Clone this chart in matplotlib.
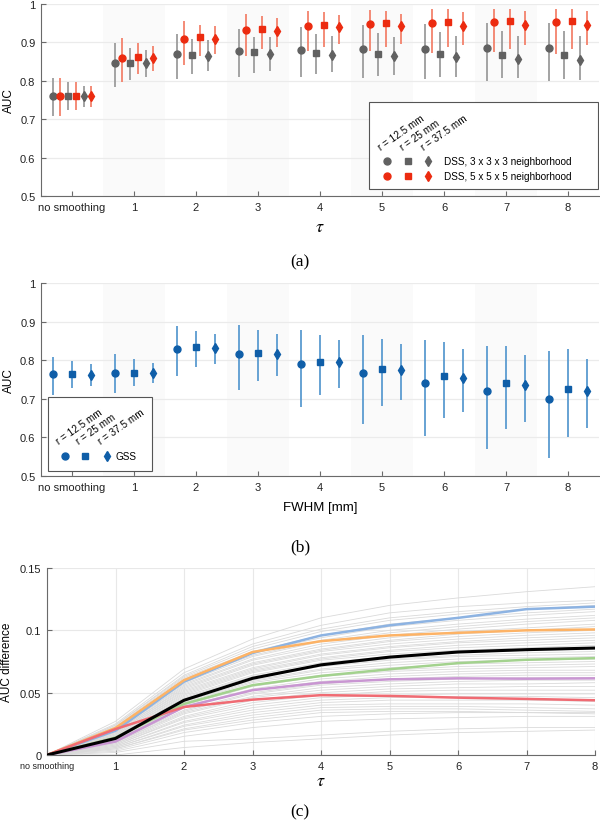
#!/usr/bin/env python

import numpy as np
import matplotlib
matplotlib.use('Agg')
import matplotlib.pyplot as plt
from matplotlib.patches import Rectangle

plt.rc("font", family=["Liberation Sans", "DejaVu Sans"], size=8)
plt.rc("mathtext", fontset="stix")

groups = ["no smoothing", "1", "2", "3", "4", "5", "6", "7", "8"]
bands = [1, 3, 5, 7]

# panel (a): DSS, 3x3x3 neighborhood (gray)
dss3_r125 = [0.760, 0.846, 0.870, 0.877, 0.881, 0.882, 0.884, 0.885, 0.885]
dss3_r125_lo = [0.708, 0.785, 0.805, 0.811, 0.809, 0.807, 0.805, 0.800, 0.800]
dss3_r125_hi = [0.807, 0.898, 0.922, 0.935, 0.939, 0.945, 0.948, 0.950, 0.951]
dss3_r25 = [0.760, 0.847, 0.868, 0.874, 0.873, 0.871, 0.870, 0.868, 0.867]
dss3_r25_lo = [0.725, 0.802, 0.818, 0.820, 0.818, 0.813, 0.810, 0.807, 0.805]
dss3_r25_hi = [0.796, 0.885, 0.909, 0.913, 0.922, 0.925, 0.928, 0.930, 0.929]
dss3_r375 = [0.760, 0.847, 0.865, 0.869, 0.867, 0.864, 0.861, 0.857, 0.854]
dss3_r375_lo = [0.733, 0.809, 0.826, 0.826, 0.822, 0.815, 0.810, 0.806, 0.802]
dss3_r375_hi = [0.787, 0.880, 0.907, 0.913, 0.916, 0.915, 0.916, 0.917, 0.917]

# panel (a): DSS, 5x5x5 neighborhood (red)
dss5_r125 = [0.760, 0.859, 0.910, 0.933, 0.944, 0.948, 0.951, 0.952, 0.952]
dss5_r125_lo = [0.708, 0.796, 0.842, 0.864, 0.877, 0.877, 0.873, 0.875, 0.871]
dss5_r125_hi = [0.807, 0.911, 0.957, 0.974, 0.981, 0.985, 0.986, 0.986, 0.986]
dss5_r25 = [0.760, 0.862, 0.913, 0.936, 0.946, 0.951, 0.954, 0.955, 0.955]
dss5_r25_lo = [0.725, 0.818, 0.864, 0.883, 0.889, 0.887, 0.887, 0.884, 0.882]
dss5_r25_hi = [0.796, 0.898, 0.946, 0.970, 0.978, 0.983, 0.986, 0.986, 0.988]
dss5_r375 = [0.760, 0.860, 0.909, 0.929, 0.939, 0.943, 0.944, 0.945, 0.945]
dss5_r375_lo = [0.733, 0.825, 0.870, 0.889, 0.896, 0.896, 0.894, 0.894, 0.893]
dss5_r375_hi = [0.787, 0.891, 0.942, 0.963, 0.971, 0.975, 0.978, 0.981, 0.981]

# panel (b): GSS
gss_r125 = [0.763, 0.767, 0.830, 0.816, 0.790, 0.766, 0.742, 0.721, 0.699]
gss_r125_lo = [0.709, 0.716, 0.759, 0.722, 0.678, 0.636, 0.603, 0.569, 0.546]
gss_r125_hi = [0.808, 0.815, 0.888, 0.891, 0.879, 0.864, 0.853, 0.838, 0.823]
gss_r25 = [0.763, 0.766, 0.834, 0.819, 0.796, 0.777, 0.759, 0.741, 0.725]
gss_r25_lo = [0.728, 0.732, 0.782, 0.747, 0.709, 0.681, 0.649, 0.623, 0.601]
gss_r25_hi = [0.797, 0.803, 0.876, 0.879, 0.864, 0.856, 0.847, 0.836, 0.828]
gss_r375 = [0.761, 0.766, 0.832, 0.816, 0.795, 0.774, 0.753, 0.737, 0.719]
gss_r375_lo = [0.734, 0.740, 0.789, 0.760, 0.728, 0.696, 0.666, 0.640, 0.624]
gss_r375_hi = [0.789, 0.794, 0.868, 0.867, 0.853, 0.843, 0.829, 0.814, 0.802]

# panel (c): AUC difference per tau, individual cases (gray) and highlighted ones
tau = [0, 1, 2, 3, 4, 5, 6, 7, 8]
diff_gray = [
    [0, .027, .069, .093, .110, .120, .126, .131, .135],
    [0, .025, .066, .089, .104, .114, .119, .122, .124],
    [0, .024, .064, .087, .101, .110, .115, .119, .122],
    [0, .024, .063, .085, .099, .108, .113, .117, .120],
    [0, .023, .062, .083, .096, .105, .110, .114, .117],
    [0, .022, .061, .082, .094, .103, .108, .112, .115],
    [0, .022, .060, .080, .092, .100, .105, .109, .112],
    [0, .021, .058, .079, .091, .098, .103, .107, .110],
    [0, .021, .057, .077, .089, .096, .101, .105, .108],
    [0, .020, .056, .076, .087, .094, .099, .102, .105],
    [0, .020, .055, .074, .085, .092, .097, .100, .103],
    [0, .019, .054, .073, .084, .091, .095, .098, .100],
    [0, .019, .053, .072, .083, .089, .093, .096, .098],
    [0, .018, .052, .070, .081, .087, .091, .094, .096],
    [0, .018, .051, .069, .080, .086, .090, .092, .094],
    [0, .017, .050, .068, .078, .084, .088, .090, .092],
    [0, .017, .049, .067, .077, .083, .086, .088, .090],
    [0, .016, .048, .066, .076, .081, .084, .086, .088],
    [0, .016, .047, .064, .074, .079, .082, .084, .085],
    [0, .015, .046, .063, .072, .077, .080, .082, .083],
    [0, .015, .045, .062, .071, .076, .079, .080, .081],
    [0, .014, .044, .060, .069, .074, .077, .078, .079],
    [0, .014, .043, .059, .068, .072, .075, .076, .077],
    [0, .013, .042, .058, .066, .070, .073, .074, .075],
    [0, .013, .041, .056, .064, .068, .071, .072, .073],
    [0, .012, .040, .055, .063, .067, .069, .070, .071],
    [0, .012, .039, .053, .061, .065, .067, .068, .068],
    [0, .011, .038, .052, .059, .063, .065, .066, .066],
    [0, .011, .036, .050, .057, .061, .063, .064, .064],
    [0, .010, .035, .049, .056, .059, .061, .062, .062],
    [0, .010, .034, .047, .054, .057, .059, .060, .060],
    [0, .009, .033, .046, .052, .055, .057, .057, .058],
    [0, .009, .031, .044, .050, .053, .054, .055, .055],
    [0, .008, .030, .042, .048, .051, .052, .052, .052],
    [0, .008, .029, .040, .046, .048, .049, .049, .049],
    [0, .007, .027, .038, .044, .046, .047, .047, .046],
    [0, .007, .026, .036, .042, .044, .044, .044, .043],
    [0, .006, .024, .034, .040, .041, .041, .041, .040],
    [0, .006, .023, .032, .038, .039, .039, .038, .037],
    [0, .005, .021, .030, .036, .037, .037, .036, .035],
    [0, .005, .020, .028, .034, .035, .035, .034, .033],
    [0, .004, .018, .026, .031, .033, .034, .034, .034],
    [0, .003, .015, .022, .027, .029, .030, .031, .031],
    [0, .002, .011, .013, .016, .019, .021, .022, .022],
    [0, .000, .006, .010, .013, .016, .018, .019, .020],
]
diff_blue = [0, .0195, .0588, .0818, .0959, .104, .110, .117, .119]
diff_orange = [0, .0217, .060, .0826, .0913, .0959, .098, .100, .1007]
diff_green = [0, .014, .041, .056, .0634, .0688, .0737, .0764, .0777]
diff_purple = [0, .0108, .0385, .052, .058, .0607, .0615, .0612, .0615]
diff_red = [0, .0208, .0385, .0444, .048, .0474, .046, .045, .0439]
diff_mean = [0, .0133, .0439, .0615, .0723, .0785, .0826, .0845, .0858]

GRAY_M, GRAY_E = "#616161", "#9c9c9c"
RED_M, RED_E = "#ec2b10", "#f3826c"
BLUE_M, BLUE_E = "#0f5ea8", "#5b9bd0"
AX_COL = "#6a6a6a"


def style_axes(ax, xlabel, ylabel, ylab_x):
	for s in ["top", "right"]:
		ax.spines[s].set_visible(False)
	for s in ["left", "bottom"]:
		ax.spines[s].set_color(AX_COL)
		ax.spines[s].set_linewidth(0.8)
	ax.tick_params(direction="in", length=3.5, width=0.8, color=AX_COL,
				   labelsize=8, pad=4, labelcolor="#222222")
	ax.set_axisbelow(True)
	lab = ax.set_xlabel(xlabel, va="center")
	ax.set_ylabel(ylabel, fontsize=8.5, va="center")
	ax.yaxis.set_label_coords(ylab_x, 0.5)
	return lab


def series(ax, x, mid, lo, hi, marker, mcol, ecol, ms):
	mid = np.asarray(mid)
	yerr = [mid - np.asarray(lo), np.asarray(hi) - mid]
	ax.errorbar(x, mid, yerr=yerr, fmt=marker, color=mcol, ecolor=ecol,
				elinewidth=1.3, capsize=0, ms=ms, mec=mcol, mfc=mcol, zorder=3)


def auc_axes(ax):
	for b in bands:
		ax.axvspan(b - 0.5, b + 0.5, color="#fafafa", lw=0, zorder=0)
	ax.set_xlim(-0.5, 8.5)
	ax.set_ylim(0.5, 1.0)
	ax.set_xticks(range(len(groups)))
	ax.set_xticklabels(groups)
	ax.get_xticklabels()[0].set_fontsize(6.5)
	ax.set_yticks([0.5, 0.6, 0.7, 0.8, 0.9, 1.0])
	ax.set_yticklabels(["0.5", "0.6", "0.7", "0.8", "0.9", "1"])
	ax.yaxis.grid(True, color="#ebebeb", lw=0.9)


fig = plt.figure(figsize=(6.0, 8.29), dpi=100)
x = np.arange(len(groups))

# ---------------- (a)
ax = fig.add_axes([41 / 600, 1 - 197 / 829, 558 / 600, 192 / 829])
auc_axes(ax)
lab = style_axes(ax, r"$\tau$", "AUC", -32 / 558)
lab.set_fontsize(13)
ax.xaxis.set_label_coords(0.5, -31 / 192)
series(ax, x - 0.31, dss3_r125, dss3_r125_lo, dss3_r125_hi, "o", GRAY_M, GRAY_E, 5)
series(ax, x - 0.06, dss3_r25, dss3_r25_lo, dss3_r25_hi, "s", GRAY_M, GRAY_E, 4.3)
series(ax, x + 0.19, dss3_r375, dss3_r375_lo, dss3_r375_hi, "d", GRAY_M, GRAY_E, 5.5)
series(ax, x - 0.19, dss5_r125, dss5_r125_lo, dss5_r125_hi, "o", RED_M, RED_E, 5)
series(ax, x + 0.06, dss5_r25, dss5_r25_lo, dss5_r25_hi, "s", RED_M, RED_E, 4.3)
series(ax, x + 0.31, dss5_r375, dss5_r375_lo, dss5_r375_hi, "d", RED_M, RED_E, 5.5)

# legend (a)
ax.add_patch(Rectangle((0.588, 0.036), 0.41, 0.454, transform=ax.transAxes,
					   fc="white", ec="#555555", lw=0.8, zorder=5))
for xm, mk, ms in [(0.620, "o", 5), (0.658, "s", 4.3), (0.694, "d", 5.5)]:
	ax.plot(xm, 0.182, mk, color=GRAY_M, ms=ms, transform=ax.transAxes, zorder=6, clip_on=False)
	ax.plot(xm, 0.104, mk, color=RED_M, ms=ms, transform=ax.transAxes, zorder=6, clip_on=False)
for xr, t in [(0.611, "r = 12.5 mm"), (0.650, "r = 25 mm"), (0.688, "r = 37.5 mm")]:
	ax.text(xr, 0.232, t, rotation=35, rotation_mode="anchor", ha="left", va="bottom",
			fontsize=7.2, transform=ax.transAxes, zorder=6)
ax.text(0.722, 0.182, "DSS, 3 x 3 x 3 neighborhood", fontsize=7.2, va="center",
		transform=ax.transAxes, zorder=6)
ax.text(0.722, 0.104, "DSS, 5 x 5 x 5 neighborhood", fontsize=7.2, va="center",
		transform=ax.transAxes, zorder=6)

# ---------------- (b)
ax = fig.add_axes([41 / 600, 1 - 477 / 829, 558 / 600, 193 / 829])
auc_axes(ax)
lab = style_axes(ax, "FWHM [mm]", "AUC", -32 / 558)
lab.set_fontsize(9.5)
ax.xaxis.set_label_coords(0.5, -31 / 193)
series(ax, x - 0.3, gss_r125, gss_r125_lo, gss_r125_hi, "o", BLUE_M, BLUE_E, 5)
series(ax, x, gss_r25, gss_r25_lo, gss_r25_hi, "s", BLUE_M, BLUE_E, 4.3)
series(ax, x + 0.3, gss_r375, gss_r375_lo, gss_r375_hi, "d", BLUE_M, BLUE_E, 5.5)

# legend (b)
ax.add_patch(Rectangle((0.0125, 0.026), 0.1865, 0.383, transform=ax.transAxes,
					   fc="white", ec="#555555", lw=0.8, zorder=5))
for xm, mk, ms in [(0.043, "o", 5), (0.079, "s", 4.3), (0.118, "d", 5.5)]:
	ax.plot(xm, 0.104, mk, color=BLUE_M, ms=ms, transform=ax.transAxes, zorder=6, clip_on=False)
for xr, t in [(0.034, "r = 12.5 mm"), (0.070, "r = 25 mm"), (0.109, "r = 37.5 mm")]:
	ax.text(xr, 0.155, t, rotation=35, rotation_mode="anchor", ha="left", va="bottom",
			fontsize=7.2, transform=ax.transAxes, zorder=6)
ax.text(0.133, 0.104, "GSS", fontsize=7.2, va="center", transform=ax.transAxes, zorder=6)

# ---------------- (c)
ax = fig.add_axes([47 / 600, 1 - 756 / 829, 548 / 600, 187 / 829])
lab = style_axes(ax, r"$\tau$", "AUC difference", -40 / 548)
lab.set_fontsize(13)
ax.xaxis.set_label_coords(0.5, -26 / 187)
for g in diff_gray:
	ax.plot(tau, g, color="#dadada", lw=0.6, zorder=2)
ax.plot(tau, diff_blue, color="#8db3e2", lw=1.8, zorder=3)
ax.plot(tau, diff_orange, color="#fdb366", lw=1.8, zorder=3)
ax.plot(tau, diff_green, color="#a3d28e", lw=1.8, zorder=3)
ax.plot(tau, diff_purple, color="#c996d2", lw=1.8, zorder=3)
ax.plot(tau, diff_red, color="#f06b73", lw=1.8, zorder=3)
ax.plot(tau, diff_mean, color="black", lw=2.2, zorder=4)
ax.set_xlim(0, 8)
ax.set_ylim(0, 0.15)
ax.set_xticks(tau)
ax.set_xticklabels(groups)
ax.get_xticklabels()[0].set_fontsize(6.5)
ax.set_yticks([0, 0.05, 0.1, 0.15])
ax.set_yticklabels(["0", "0.05", "0.1", "0.15"])
ax.grid(True, color="#e8e8e8", lw=0.8)

for yy, t in [(262, "(a)"), (547, "(b)"), (812, "(c)")]:
	fig.text(0.5, 1 - yy / 829, t, ha="center", va="center", fontsize=12.5,
			 family="Liberation Serif")

fig.savefig("out.png", dpi=100)
